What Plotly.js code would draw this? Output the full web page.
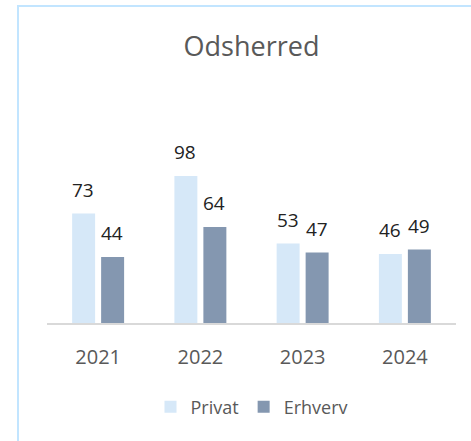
<!DOCTYPE html>
<html>
<head>
<meta charset="utf-8">
<script src="https://cdn.plot.ly/plotly-3.0.1.min.js"></script>
<style>
  html, body { margin: 0; padding: 0; background: #fff; }
  #wrap { position: relative; width: 471px; height: 441px; overflow: hidden; }
  #chart { position: absolute; left: 0; top: 0; width: 471px; height: 441px; }
  #frame { position: absolute; left: 17px; top: 5px; width: 470px; height: 450px;
           border: 2px solid #C2E5FF; box-sizing: border-box; pointer-events: none; }
</style>
</head>
<body>
<div id="wrap">
  <div id="chart"></div>
  <div id="frame"></div>
</div>
<script>
const categories = ["2021", "2022", "2023", "2024"];
const privat = [73, 98, 53, 46];
const erhverv = [44, 64, 47, 49];
const seriesNames = ["Privat", "Erhverv"];
const chartTitle = "Odsherred";

const FONT = "'Open Sans', 'Noto Sans', sans-serif";
const series = [privat, erhverv];
const colors = ["#D6E8F8", "#8497B0"];

const traces = series.map((vals, s) => ({
  type: "bar",
  name: seriesNames[s],
  x: categories,
  y: vals,
  marker: { color: colors[s], line: { width: 0 } },
  hoverinfo: "none"
}));

const annotations = [];
series.forEach((vals, s) => {
  vals.forEach((v, i) => {
    annotations.push({
      x: i, y: v, xref: "x", yref: "y",
      text: String(v), showarrow: false,
      xshift: s === 0 ? -15 : 14, yshift: 24,
      yanchor: "middle", xanchor: "center",
      font: { family: FONT, size: 19, color: "#222222" }
    });
  });
});

const layout = {
  width: 471, height: 441,
  margin: { l: 47, r: 15, t: 143, b: 118, pad: 0 },
  paper_bgcolor: "#ffffff", plot_bgcolor: "#ffffff",
  title: {
    text: chartTitle,
    font: { family: FONT, size: 27, color: "#595959" },
    x: 0.5, xref: "paper", xanchor: "center",
    y: 1 - 47 / 441, yref: "container", yanchor: "middle"
  },
  barmode: "group",
  bargap: 0.433,
  bargroupgap: 0.207,
  xaxis: {
    type: "category",
    range: [-0.5, categories.length - 0.5],
    showline: true, linecolor: "#D9D9D9", linewidth: 2,
    ticks: "", showgrid: false, zeroline: false,
    ticklabelstandoff: 15,
    tickfont: { family: FONT, size: 20, color: "#595959" }
  },
  yaxis: {
    range: [0, 120], visible: false, showgrid: false, zeroline: false
  },
  showlegend: true,
  legend: {
    orientation: "h",
    x: 0.5, xanchor: "center",
    y: 1 - 407 / 441, yref: "container", yanchor: "middle",
    font: { family: FONT, size: 18, color: "#595959" },
    itemwidth: 30, traceorder: "normal"
  },
  annotations: annotations
};

Plotly.newPlot("chart", traces, layout, { displayModeBar: false, staticPlot: true });
</script>
</body>
</html>
